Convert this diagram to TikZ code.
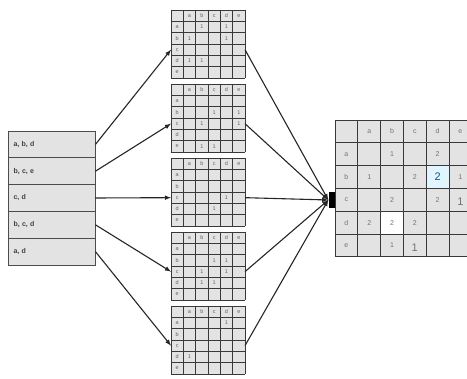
\documentclass[tikz,border=0pt]{standalone}
\usepackage{fontspec}
\setmainfont{Liberation Sans}
\usepackage{tikz}

\begin{document}
\begin{tikzpicture}[x=1pt, y=-1pt,
  row/.style={draw=gray!60!black, line width=.9pt, fill=gray!22, minimum width=87pt, minimum height=26.8pt, inner sep=0pt, text width=76pt, align=left, font=\bfseries\fontsize{7}{8}\selectfont, text=black!75},
  lbl/.style={inner sep=0pt, font=\fontsize{5.5}{6}\selectfont, text=black!60},
  num/.style={inner sep=0pt, font=\fontsize{7}{8}\selectfont, text=black!55},
  big/.style={inner sep=0pt, font=\fontsize{11}{12}\selectfont, text=black!55},
  grid line/.style={draw=gray!45!black, line width=.9pt},
  link/.style={draw=black!85, line width=1.1pt, -latex}]

  \clip (0,0) rectangle (467,379);
  \fill[white] (0,0) rectangle (467,379);

  % transactions
  \node[row] (r1) at (51.5,144.4) {a, b, d};
  \node[row] (r2) at (51.5,171.2) {b, c, e};
  \node[row] (r3) at (51.5,198) {c, d};
  \node[row] (r4) at (51.5,224.8) {b, c, d};
  \node[row] (r5) at (51.5,251.6) {a, d};

  % one matrix per transaction
  \foreach \k/\ty/\ones in {1/10/{1/2,1/4,2/1,2/4,4/1,4/2},
                            2/84/{2/3,2/5,3/2,3/5,5/2,5/3},
                            3/158/{3/4,4/3},
                            4/232/{2/3,2/4,3/2,3/4,4/2,4/3},
                            5/306/{1/4,4/1}} {
    \fill[gray!22] (171,\ty) rectangle (245,\ty+68);
    \foreach \i in {0,...,6} {
      \draw[grid line] (171+\i*12.333,\ty) -- (171+\i*12.333,\ty+68);
      \draw[grid line] (171,\ty+\i*11.333) -- (245,\ty+\i*11.333);
    }
    \foreach \ch [count=\i] in {a,b,c,d,e} {
      \node[lbl] at (177.17+\i*12.333,\ty+5.67) {\ch};
      \node[lbl] at (177.17,\ty+5.67+\i*11.333) {\ch};
    }
    \foreach \r/\c in \ones
      \node[lbl] at (177.17+\c*12.333,\ty+5.67+\r*11.333) {1};
    \coordinate (gin\k) at (171,\ty+39.67);
    \coordinate (gout\k) at (245,\ty+39.67);
  }

  % summed matrix
  \fill[gray!22] (335,120) rectangle (472,257);
  \fill[cyan!12] (426.2,165.6) rectangle (449,188.4);
  \fill[white] (380.6,211.2) rectangle (403.4,234);
  \foreach \i in {0,...,6} {
    \draw[grid line] (335+\i*22.8,120) -- (335+\i*22.8,257);
    \draw[grid line] (335,120+\i*22.8) -- (472,120+\i*22.8);
  }
  \foreach \ch [count=\i] in {a,b,c,d,e} {
    \node[num] at (346.4+\i*22.8,131.4) {\ch};
    \node[num] at (346.4,131.4+\i*22.8) {\ch};
  }
  \foreach \r/\c/\v in {1/2/1,1/4/2,2/1/1,2/3/2,2/5/1,3/2/2,3/4/2,4/1/2,4/2/2,4/3/2,5/2/1}
    \node[num] at (346.4+\c*22.8,131.4+\r*22.8) {\v};
  \node[big, text=blue!50!cyan!70!black] at (437.6,177) {2};
  \node[big] at (460.4,201.5) {1};
  \node[big] at (414.8,247.5) {1};

  \node[fill=black, minimum width=6pt, minimum height=16pt, inner sep=0pt] (bar) at (331.5,200) {};

  % links
  \foreach \k in {1,...,5} {
    \draw[link] (r\k.east) -- (gin\k);
    \draw[link] (gout\k) -- (bar.west);
  }
\end{tikzpicture}
\end{document}
